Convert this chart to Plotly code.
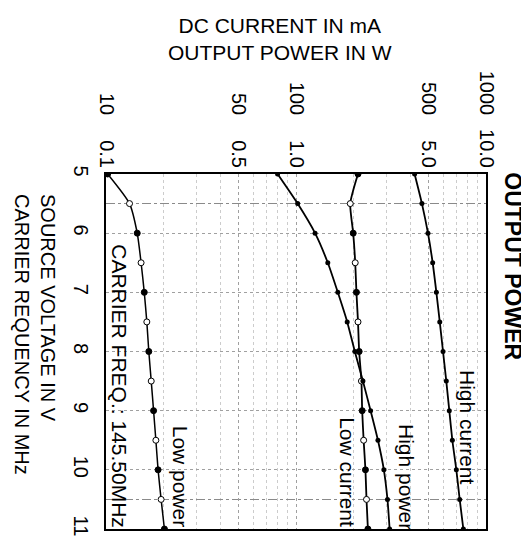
import plotly.graph_objects as go

# Source voltage (V), every 0.5 V
voltage = [5.0, 5.5, 6.0, 6.5, 7.0, 7.5, 8.0, 8.5, 9.0, 9.5, 10.0, 10.5, 11.0]

# DC current in mA
high_current = [421, 460, 495, 524, 548, 571, 594, 618, 641, 665, 698, 727, 760]
low_current = [212, 193, 200, 205, 208, 212, 215, 221, 223, 227, 232, 235, 239]

# Output power in W
high_power = [0.80, 1.02, 1.26, 1.47, 1.66, 1.86, 2.04, 2.25, 2.47, 2.70, 2.90, 3.03, 3.11]
low_power = [0.102, 0.133, 0.146, 0.153, 0.159, 0.164, 0.168, 0.173, 0.178, 0.183, 0.188, 0.195, 0.203]

# Tick labels
ma_ticks = [10, 50, 100, 500, 1000]
ma_text = ["10", "50", "100", "500", "1000"]
w_ticks = [0.1, 0.5, 1.0, 5.0, 10.0]
w_text = ["0.1", "0.5", "1.0", "5.0", "10.0"]
ma_minor = [20, 30, 40, 60, 70, 80, 90, 200, 300, 400, 600, 700, 800, 900]
v_ticks = [5, 6, 7, 8, 9, 10, 11]

FONT = "Liberation Sans, Arial, sans-serif"


def alt_fill(vals):
    return ["black" if float(v).is_integer() else "white" for v in vals]


fig = go.Figure()

fig.add_trace(go.Scatter(
    x=high_current, y=voltage, xaxis="x", yaxis="y", mode="lines+markers",
    line=dict(color="black", width=1.8, shape="spline", smoothing=0.6),
    marker=dict(size=5, color="black"), name="High current"))
fig.add_trace(go.Scatter(
    x=low_current, y=voltage, xaxis="x", yaxis="y", mode="lines+markers",
    line=dict(color="black", width=1.8, shape="spline", smoothing=0.6),
    marker=dict(size=6, color=alt_fill(voltage), line=dict(color="black", width=1)),
    name="Low current"))
fig.add_trace(go.Scatter(
    x=high_power, y=voltage, xaxis="x2", yaxis="y", mode="lines+markers",
    line=dict(color="black", width=1.8, shape="spline", smoothing=0.6),
    marker=dict(size=5, color="black"), name="High power"))
fig.add_trace(go.Scatter(
    x=low_power, y=voltage, xaxis="x2", yaxis="y", mode="lines+markers",
    line=dict(color="black", width=1.5, shape="spline", smoothing=0.6),
    marker=dict(size=6, color=alt_fill(voltage), line=dict(color="black", width=1)),
    name="Low power"))

grid = dict(gridcolor="#a0a0a0", griddash="dot", gridwidth=1)

fig.update_layout(
    width=529, height=539,
    margin=dict(l=98, r=51, t=166, b=11),
    paper_bgcolor="white", plot_bgcolor="white",
    showlegend=False,
    font=dict(family=FONT, color="black", size=20),
    xaxis=dict(
        type="log", range=[1, 3], side="top", anchor="y",
        tickvals=ma_ticks, ticktext=ma_text, tickangle=90,
        ticks="", ticklabelstandoff=50,
        showline=True, mirror=True, linecolor="black", linewidth=1.5,
        showgrid=True, **grid,
        minor=dict(tickvals=ma_minor, showgrid=True, gridcolor="#cccccc",
                   griddash="dot", gridwidth=1, ticks=""),
        tickfont=dict(size=20), zeroline=False),
    xaxis2=dict(
        type="log", range=[-1, 1], side="top", overlaying="x", anchor="y",
        tickvals=w_ticks, ticktext=w_text, tickangle=90,
        ticks="", ticklabelstandoff=2,
        showline=False, showgrid=False, zeroline=False,
        tickfont=dict(size=20)),
    yaxis=dict(
        range=[11, 5], tickvals=v_ticks, tickangle=90, ticks="",
        ticklabelstandoff=6,
        showline=True, mirror=True, linecolor="black", linewidth=1.5,
        showgrid=True, **grid,
        minor=dict(tickvals=[5.5, 10.5], showgrid=True, gridcolor="#8a8a8a",
                   griddash="dashdot", gridwidth=1, ticks=""),
        tickfont=dict(size=20), zeroline=False),
)

# paper coords: plot area spans y pixels 166..528 (height 362)
ann = [
    dict(text="DC CURRENT IN mA<br>OUTPUT POWER IN W", x=0.458, y=1.38,
         font=dict(size=21), textangle=0),
    dict(text="<b>OUTPUT POWER</b>", x=1.071, y=0.74, font=dict(size=23), textangle=90),
    dict(text="SOURCE VOLTAGE IN V<br>CARRIER REQUENCY IN MHz", x=-0.187, y=0.948,
         yanchor="top", align="left", font=dict(size=20), textangle=90),
    dict(text="CARRIER FREQ.: 145.50MHz", x=0.037, y=0.402, font=dict(size=21), textangle=90),
    dict(text="High current", x=0.953, y=0.287, font=dict(size=21), textangle=90),
    dict(text="High power", x=0.789, y=0.147, font=dict(size=21), textangle=90),
    dict(text="Low current", x=0.637, y=0.16, font=dict(size=21), textangle=90),
    dict(text="Low power", x=0.195, y=0.147, font=dict(size=21), textangle=90),
]
for a in ann:
    a.setdefault("xanchor", "center")
    a.setdefault("yanchor", "middle")
    fig.add_annotation(xref="paper", yref="paper", showarrow=False, **a)

fig.write_html("out.html")
